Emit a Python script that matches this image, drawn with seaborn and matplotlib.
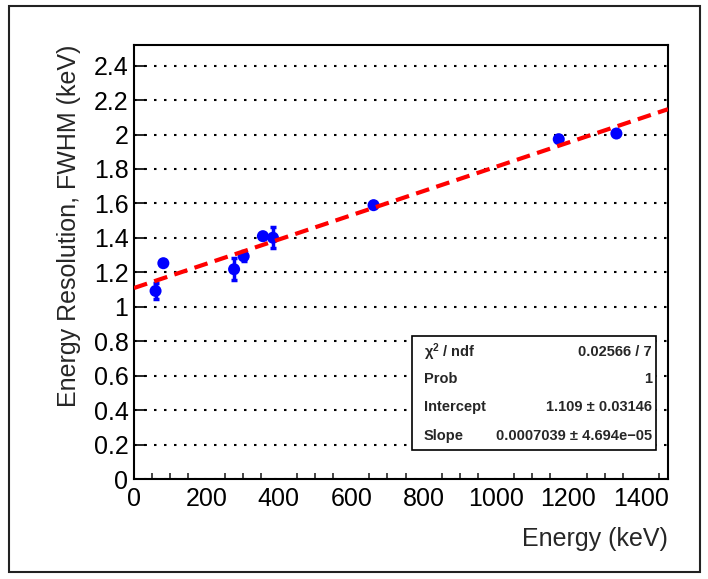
import numpy as np
import pandas as pd
import seaborn as sns
import matplotlib.pyplot as plt
from matplotlib.patches import Rectangle
from matplotlib.ticker import MultipleLocator

# Measured energy resolution vs gamma-line energy
energy = [59.5, 81.0, 276.4, 302.9, 356.0, 383.8, 661.7, 1173.2, 1332.5]
fwhm = [1.092, 1.253, 1.218, 1.293, 1.410, 1.401, 1.590, 1.973, 2.006]
fwhm_err = [0.045, 0.012, 0.064, 0.030, 0.015, 0.060, 0.012, 0.012, 0.012]

# Linear fit results
intercept = 1.109
slope = 0.0007039
stats_labels = ["χ$^{2}$ / ndf", "Prob", "Intercept", "Slope"]
stats_values = ["0.02566 / 7", "1", "1.109 ± 0.03146", "0.0007039 ± 4.694e−05"]

x_max = 1475
y_max = 2.52

sns.set_theme(style="white")
plt.rcParams["font.family"] = ["Liberation Sans", "DejaVu Sans"]
plt.rcParams["mathtext.fontset"] = "custom"
plt.rcParams["mathtext.rm"] = "Liberation Sans:bold"
plt.rcParams["mathtext.it"] = "Liberation Sans:bold"

df = pd.DataFrame({"energy": energy, "fwhm": fwhm, "err": fwhm_err})
xs = np.linspace(0, x_max, 200)
fit_df = pd.DataFrame({"energy": xs, "fwhm": intercept + slope * xs})

fig = plt.figure(figsize=(7.08, 5.79), dpi=100)
fig.patch.set_facecolor("white")
fig.patches.append(Rectangle((0.0127, 0.0121), 0.976, 0.9775, transform=fig.transFigure,
                             fill=False, edgecolor="#222222", linewidth=1.5, zorder=0))

ax = fig.add_axes([0.1893, 0.1727, 0.7542, 0.7496])

ax.errorbar(df["energy"], df["fwhm"], yerr=df["err"], fmt="none", ecolor="blue",
            elinewidth=2.5, capsize=2.5, capthick=2.5, zorder=3)
sns.scatterplot(data=df, x="energy", y="fwhm", ax=ax, color="blue", s=75,
                edgecolor="none", zorder=4)
sns.lineplot(data=fit_df, x="energy", y="fwhm", ax=ax, color="red", linewidth=3,
             linestyle=(0, (3.3, 1.8)), zorder=5)

ax.set_xlim(0, x_max)
ax.set_ylim(0, y_max)
ax.xaxis.set_major_locator(MultipleLocator(200))
ax.xaxis.set_minor_locator(MultipleLocator(50))
ax.set_yticks(np.round(np.arange(0, 2.41, 0.2), 1))
ax.set_yticklabels(["0", "0.2", "0.4", "0.6", "0.8", "1", "1.2", "1.4", "1.6",
                    "1.8", "2", "2.2", "2.4"])

ax.yaxis.grid(True, color="black", linestyle=(0, (1.2, 3.6)), linewidth=1.5)
ax.xaxis.grid(False)
ax.set_axisbelow(True)

ax.tick_params(axis="both", which="major", direction="in", length=9.5, width=1.2,
               labelsize=18, colors="black", pad=6)
ax.tick_params(axis="x", which="minor", direction="in", length=4.5, width=1.2,
               bottom=True)
ax.tick_params(axis="both", which="both", top=False, right=False)
ax.tick_params(axis="y", which="major", left=True, pad=4)

for sp in ax.spines.values():
    sp.set_color("black")
    sp.set_linewidth(1.5)

ax.set_xlabel("Energy (keV)", fontsize=18, loc="right", labelpad=11)
ax.set_ylabel("Energy Resolution, FWHM (keV)", fontsize=18, loc="top", labelpad=9)

# Fit statistics box
box_x0, box_x1 = 412 / 708, 656 / 708
box_y0, box_y1 = 1 - 450 / 579, 1 - 336 / 579
fig.patches.append(Rectangle((box_x0, box_y0), box_x1 - box_x0, box_y1 - box_y0,
                             transform=fig.transFigure, facecolor="white",
                             edgecolor="black", linewidth=1.2, zorder=10))
row_y = [352, 379, 407, 436]
for lab, val, yy in zip(stats_labels, stats_values, row_y):
    fig.text(424 / 708, 1 - yy / 579, lab, fontsize=10.5, fontweight="bold",
             ha="left", va="center", zorder=11)
    fig.text(652 / 708, 1 - yy / 579, val, fontsize=10.5, fontweight="bold",
             ha="right", va="center", zorder=11)

fig.savefig("out.png", dpi=100)
